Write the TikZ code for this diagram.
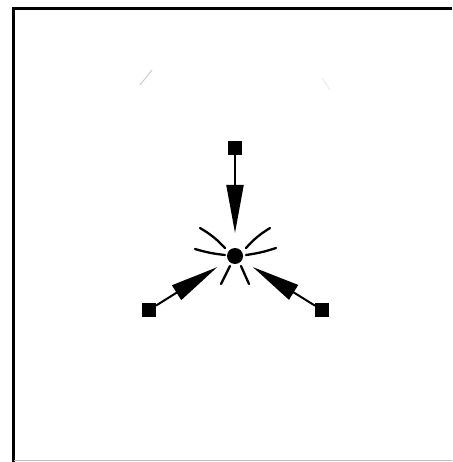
\documentclass[tikz,border=0pt]{standalone}
\usetikzlibrary{arrows.meta}
\begin{document}
\begin{tikzpicture}[x=1pt,y=-1pt,
  sq/.style={fill=black,minimum size=14pt,inner sep=0pt,outer sep=0pt},
  dotnode/.style={circle,fill=black,minimum size=16pt,inner sep=0pt,outer sep=0pt},
  force/.style={line width=2pt,-{Triangle[length=48pt,width=17pt]},shorten >=13pt},
  leg/.style={line width=2.3pt,line cap=round}]
\useasboundingbox (0,0) rectangle (452,462);
\fill[white] (0,0) rectangle (452,462);
% frame
\draw[line width=3pt] (452,9) -- (13.5,9) -- (13.5,462);
\draw[gray!50,line width=1pt] (13.5,460.5) -- (452,460.5);
% faint marks
\draw[gray!40,line width=1pt] (140,85) -- (152,70);
\draw[gray!15,line width=1pt] (322,78) -- (330,90);
% nodes
\node[dotnode] (c) at (235,256) {};
\node[sq] (t) at (235,148) {};
\node[sq] (l) at (149,310) {};
\node[sq] (r) at (322,310) {};
% legs
\draw[leg] (200,228) to[bend left=8] (225,248);
\draw[leg] (270,228) to[bend right=8] (246,248);
\draw[leg] (195,249) to[bend right=5] (225,255);
\draw[leg] (276,248) to[bend left=5] (246,255);
\draw[leg] (221,284) -- (230,266);
\draw[leg] (249,284) -- (241,266);
% forces
\draw[force,shorten >=15pt] (t) -- (c);
\draw[force] (l) -- (c);
\draw[force] (r) -- (c);
\end{tikzpicture}
\end{document}
